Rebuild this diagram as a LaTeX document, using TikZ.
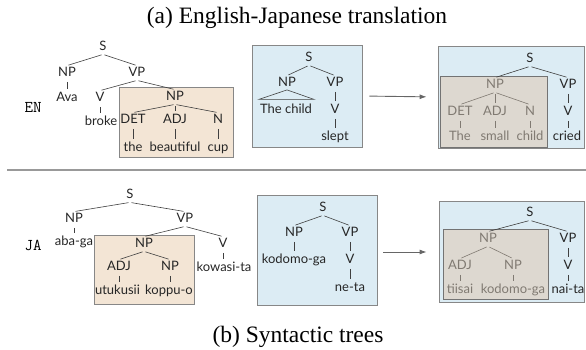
\documentclass[tikz,border=0pt]{standalone}
\usepackage{fontspec}
\setmainfont{Liberation Serif}
\newfontfamily\treefont{Lato}
\usetikzlibrary{arrows.meta}
\definecolor{beigec}{RGB}{243,229,213}
\definecolor{lbluec}{RGB}{220,236,244}
\definecolor{igrayc}{RGB}{221,216,208}
\definecolor{borderc}{RGB}{135,135,135}
\definecolor{fadedc}{RGB}{128,122,114}
\begin{document}
\begin{tikzpicture}[x=1pt,y=-1pt,
  lab/.style={font=\treefont\fontsize{13}{15}\selectfont, inner sep=1.5pt, text height=9.1pt, text depth=2.3pt, text=black!85},
  faded/.style={lab, text=fadedc},
  edge/.style={draw=black!75, line width=0.6pt, shorten <=1.5pt, shorten >=1.5pt},
  fedge/.style={draw=fadedc, line width=0.6pt, shorten <=1.5pt, shorten >=1.5pt},
  boxbase/.style={draw=borderc, line width=0.8pt, inner sep=0pt},
  beigebox/.style={boxbase, fill=beigec},
  bluebox/.style={boxbase, fill=lbluec},
  graybox/.style={boxbase, draw=black!55, fill=igrayc},
  arr/.style={draw=black!60, line width=0.9pt, -{Latex[length=7pt,width=5pt]}},
  caption/.style={font=\fontsize{23.5}{26}\selectfont, inner sep=0pt},
  lang/.style={font=\ttfamily\fontsize{16.5}{18}\selectfont, inner sep=0pt}
]
\useasboundingbox (0,0) rectangle (586,350);

% captions and language labels
\node[caption] (titlea) at (297,18) {(a) English-Japanese translation};
\node[caption] (titleb) at (298,337) {(b) Syntactic trees};
\node[lang] (en) at (33,107) {EN};
\node[lang] (ja) at (33,245) {JA};

% separator
\coordinate (sepl) at (7,170);
\coordinate (sepr) at (586,170);
\draw[draw=black!40, line width=1.4pt] (sepl) -- (sepr);

% boxes
\node[beigebox, minimum width=114pt, minimum height=70pt] (box1) at (176,122) {};
\node[bluebox, minimum width=110pt, minimum height=102pt] (box2) at (307,96) {};
\node[bluebox, minimum width=146pt, minimum height=102pt] (box3) at (511,97) {};
\node[graybox, minimum width=107pt, minimum height=71pt] (box3i) at (493.5,111.5) {};
\node[beigebox, minimum width=100pt, minimum height=69pt] (box4) at (144,269.5) {};
\node[bluebox, minimum width=120pt, minimum height=110pt] (box5) at (317,250) {};
\node[bluebox, minimum width=145pt, minimum height=101pt] (box6) at (511.5,251.5) {};
\node[graybox, minimum width=105pt, minimum height=70pt] (box6i) at (495.5,264) {};

% arrows
\draw[arr, shorten <=7pt, shorten >=11pt] (box2.east) -- (box3.west);
\draw[arr, shorten <=6pt, shorten >=12pt] ([yshift=-2pt]box5.east) -- ([yshift=-2pt]box5.east -| box6.west);

% ---- tree a1
\node[lab] (a-s) at (103,47) {S};
\node[lab] (a-np) at (67,73) {NP};
\node[lab] (a-vp) at (137,73) {VP};
\node[lab] (a-ava) at (67,98) {Ava};
\node[lab] (a-v) at (100,98) {V};
\node[lab] (a-broke) at (101,122) {broke};
\node[lab] (a-np2) at (175,97) {NP};
\node[lab] (a-det) at (133,120) {DET};
\node[lab] (a-adj) at (175,120) {ADJ};
\node[lab] (a-n) at (218,120) {N};
\node[lab] (a-the) at (133,148) {the};
\node[lab] (a-beau) at (175,148) {beautiful};
\node[lab] (a-cup) at (218,148) {cup};
\draw[edge] (a-s.south) -- (a-np.north);
\draw[edge] (a-s.south) -- (a-vp.north);
\draw[edge] (a-np.south) -- (a-ava.north);
\draw[edge] (a-vp.south) -- (a-v.north);
\draw[edge] (a-vp.south) -- (a-np2.north);
\draw[edge] (a-v.south) -- (a-v.south |- a-broke.north);
\draw[edge] (a-np2.south) -- (a-det.north);
\draw[edge] (a-np2.south) -- (a-adj.north);
\draw[edge] (a-np2.south) -- (a-n.north);
\draw[edge] (a-det.south) -- (a-the.north);
\draw[edge] (a-adj.south) -- (a-beau.north);
\draw[edge] (a-n.south) -- (a-cup.north);

% ---- tree a2
\node[lab] (b-s) at (309,58) {S};
\node[lab] (b-np) at (287,83) {NP};
\node[lab] (b-vp) at (335,83) {VP};
\node[lab] (b-child) at (286,110) {The child};
\node[lab] (b-v) at (335,110) {V};
\node[lab] (b-slept) at (335,137) {slept};
\draw[edge] (b-s.south) -- (b-np.north);
\draw[edge] (b-s.south) -- (b-vp.north);
\draw[draw=black!75, line width=0.6pt] ([yshift=0.5pt]b-np.south) -- ++(-28,9.5) -- ++(55,0) -- cycle;
\draw[edge] (b-vp.south) -- (b-v.north);
\draw[edge] (b-v.south) -- (b-slept.north);

% ---- tree a3
\node[lab] (c-s) at (530,59) {S};
\node[faded] (c-np) at (495,85) {NP};
\node[lab] (c-vp) at (568,85) {VP};
\node[faded] (c-det) at (460,112) {DET};
\node[faded] (c-adj) at (495,112) {ADJ};
\node[faded] (c-n) at (530,112) {N};
\node[lab] (c-v) at (568,112) {V};
\node[faded] (c-the) at (460,137) {The};
\node[faded] (c-small) at (495,137) {small};
\node[faded] (c-child) at (530,137) {child};
\node[lab] (c-cried) at (567,137) {cried};
\draw[edge] (c-s.south) -- (c-np.north);
\draw[edge] (c-s.south) -- (c-vp.north);
\draw[fedge] (c-np.south) -- (c-det.north);
\draw[fedge] (c-np.south) -- (c-adj.north);
\draw[fedge] (c-np.south) -- (c-n.north);
\draw[fedge] (c-det.south) -- (c-the.north);
\draw[fedge] (c-adj.south) -- (c-small.north);
\draw[fedge] (c-n.south) -- (c-child.north);
\draw[edge] (c-vp.south) -- (c-v.north);
\draw[edge] (c-v.south) -- (c-v.south |- c-cried.north);

% ---- tree b1
\node[lab] (d-s) at (130,195) {S};
\node[lab] (d-np) at (74,219) {NP};
\node[lab] (d-vp) at (185,219) {VP};
\node[lab] (d-aba) at (74,242) {aba-ga};
\node[lab] (d-np2) at (144,244) {NP};
\node[lab] (d-adj) at (119,267) {ADJ};
\node[lab] (d-np3) at (170,267) {NP};
\node[lab] (d-utu) at (117.5,291) {utukusii};
\node[lab] (d-kop) at (169,291) {koppu-o};
\node[lab] (d-v) at (223,244) {V};
\node[lab] (d-kow) at (224,268) {kowasi-ta};
\draw[edge] (d-s.south) -- (d-np.north);
\draw[edge] (d-s.south) -- (d-vp.north);
\draw[edge] (d-np.south) -- (d-aba.north);
\draw[edge] (d-vp.south) -- (d-np2.north);
\draw[edge] (d-vp.south) -- (d-v.north);
\draw[edge] (d-np2.south) -- (d-adj.north);
\draw[edge] (d-np2.south) -- (d-np3.north);
\draw[edge] (d-adj.south) -- (d-adj.south |- d-utu.north);
\draw[edge] (d-np3.south) -- (d-np3.south |- d-kop.north);
\draw[edge] (d-v.south) -- (d-v.south |- d-kow.north);

% ---- tree b2
\node[lab] (e-s) at (323,208) {S};
\node[lab] (e-np) at (294,233) {NP};
\node[lab] (e-vp) at (350,233) {VP};
\node[lab] (e-kod) at (294,260) {kodomo-ga};
\node[lab] (e-v) at (350,260) {V};
\node[lab] (e-neta) at (350,288) {ne-ta};
\draw[edge] (e-s.south) -- (e-np.north);
\draw[edge] (e-s.south) -- (e-vp.north);
\draw[edge] (e-np.south) -- (e-kod.north);
\draw[edge] (e-vp.south) -- (e-v.north);
\draw[edge] (e-v.south) -- (e-neta.north);

% ---- tree b3
\node[lab] (f-s) at (530,213) {S};
\node[faded] (f-np) at (488,239) {NP};
\node[lab] (f-vp) at (568,239) {VP};
\node[faded] (f-adj) at (460,266) {ADJ};
\node[faded] (f-np2) at (513,266) {NP};
\node[lab] (f-v) at (568,266) {V};
\node[faded] (f-tii) at (460,290) {tiisai};
\node[faded] (f-kod) at (513,290) {kodomo-ga};
\node[lab] (f-nai) at (568,290) {nai-ta};
\draw[edge] (f-s.south) -- (f-np.north);
\draw[edge] (f-s.south) -- (f-vp.north);
\draw[fedge] (f-np.south) -- (f-adj.north);
\draw[fedge] (f-np.south) -- (f-np2.north);
\draw[fedge] (f-adj.south) -- (f-tii.north);
\draw[fedge] (f-np2.south) -- (f-kod.north);
\draw[edge] (f-vp.south) -- (f-v.north);
\draw[edge] (f-v.south) -- (f-nai.north);
\end{tikzpicture}
\end{document}
